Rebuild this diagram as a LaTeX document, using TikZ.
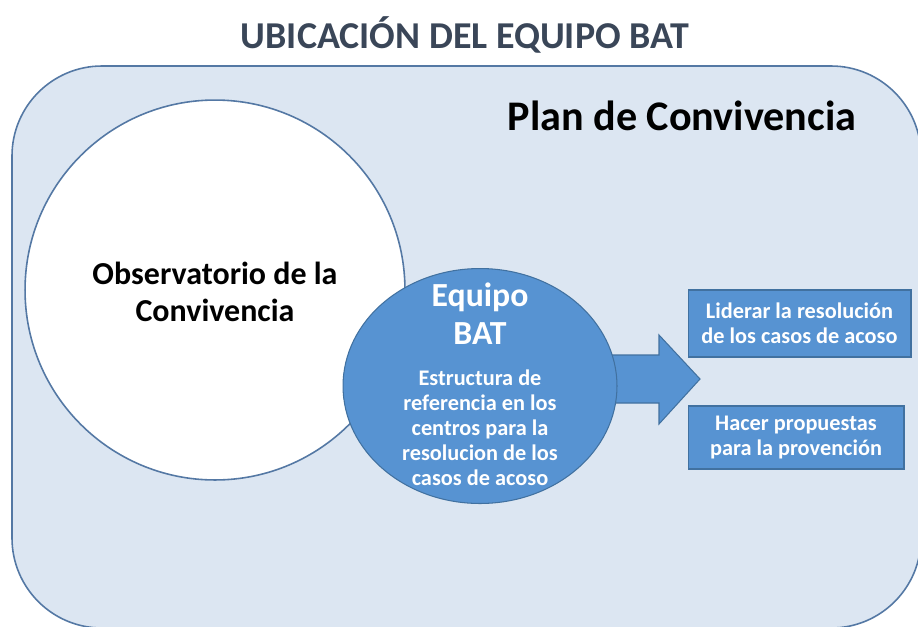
\documentclass[tikz,border=0pt]{standalone}
\usepackage{fontspec}
\setmainfont{Carlito}
\usetikzlibrary{shapes.geometric}
\definecolor{fondoazul}{RGB}{220,230,242}
\definecolor{bordeazul}{RGB}{84,120,164}
\definecolor{batazul}{RGB}{87,147,210}
\definecolor{batborde}{RGB}{65,113,160}
\definecolor{titulogris}{RGB}{58,70,88}
\tikzset{
  plan/.style={
    draw=bordeazul,
    fill=fondoazul,
    line width=0.9pt,
    rounded corners=1.8cm
  },
  observ/.style={
    circle,
    draw=bordeazul,
    fill=white,
    line width=0.9pt,
    minimum size=7.6cm
  },
  bat/.style={
    ellipse,
    draw=batborde,
    fill=batazul,
    line width=0.6pt,
    minimum width=5.48cm,
    minimum height=4.7cm
  },
  tarea/.style={
    rectangle,
    draw=batborde,
    fill=batazul,
    line width=0.6pt,
    align=center,
    text=white,
    inner sep=0pt,
    font=\bfseries\fontsize{12.7}{14.2}\selectfont
  },
  flecha/.style={
    draw=batborde,
    fill=batazul,
    line width=0.6pt,
    line join=miter
  }
}

\begin{document}
\begin{tikzpicture}[x=0.02cm,y=-0.02cm]
    \useasboundingbox (0,0) rectangle (918,626);
    \begin{scope}
      \clip (0,0) rectangle (918,626);
      \draw[plan] (12,66) rectangle (921,628);
    \end{scope}

    \node[font=\bfseries\fontsize{21.6}{26}\selectfont, text=titulogris] (titulo) at (465,35) {UBICACIÓN DEL EQUIPO BAT};
    \node[font=\bfseries\fontsize{24}{28}\selectfont] (plantxt) at (682,116) {Plan de Convivencia};

    \node[observ] (obs) at (215,290) {};
    \node[align=center, font=\bfseries\fontsize{18.2}{21.5}\selectfont] (obstxt) at (215,292) {Observatorio de la\\Convivencia};

    % flecha gruesa hacia las tareas
    \coordinate (punta) at (700,379);
    \draw[flecha] (608,355) -- (659,355) -- (659,335) -- (punta) -- (659,424) -- (659,403) -- (608,403) -- cycle;

    \node[bat] (equipo) at (480,386) {};
    \node[align=center, text=white, font=\bfseries\fontsize{19.2}{21.5}\selectfont] (equipotxt) at (480,314) {Equipo\\BAT};
    \node[align=center, text=white, font=\bfseries\fontsize{12.7}{14.2}\selectfont] (equipodesc) at (480,428)
      {Estructura de\\referencia en los\\centros para la\\resolucion de los\\casos de acoso};

    \node[tarea, minimum width=4.46cm, minimum height=1.34cm] (liderar) at (799.5,323.5) {Liderar la resolución\\de los casos de acoso};
    \node[tarea, minimum width=4.32cm, minimum height=1.26cm] (propuestas) at (796,437.5) {Hacer propuestas\\para la provención};
\end{tikzpicture}
\end{document}
